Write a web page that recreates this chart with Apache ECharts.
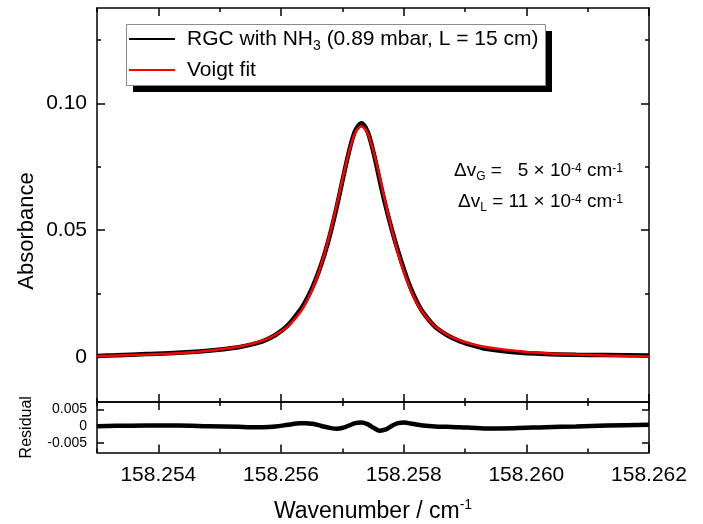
<!DOCTYPE html>
<html>
<head>
<meta charset="utf-8">
<script src="https://cdn.jsdelivr.net/npm/echarts@6/dist/echarts.min.js"></script>
<style>html,body{margin:0;padding:0;background:#fff;}#c{width:703px;height:524px;}</style>
</head>
<body>
<div id="c"></div>
<script>
// ---- data ----
const wavenumber = [158.25300,158.25331,158.25381,158.25431,158.25481,158.25531,158.25551,158.25571,158.25591,158.25611,
  158.25631,158.25641,158.25651,158.25661,158.25671,158.25681,158.25691,158.25701,158.25711,158.25721,
  158.25731,158.25741,158.25751,158.25761,158.25771,158.25781,158.25791,158.25801,158.25811,158.25821,
  158.25831,158.25851,158.25871,158.25891,158.25911,158.25931,158.25981,158.26031,158.26081,158.26131,158.26200];
const absorbance = [0.0003,0.0006,0.0011,0.0016,0.0024,0.0038,0.0048,0.0062,0.0086,0.0124,
  0.0184,0.0224,0.0273,0.0333,0.0405,0.0492,0.0593,0.0704,0.0811,0.0892,
  0.0921,0.0889,0.0804,0.0695,0.0591,0.0499,0.0416,0.0341,0.0274,0.0220,
  0.0177,0.0119,0.0085,0.0062,0.0046,0.0033,0.0018,0.0011,0.0008,0.0007,0.0005];
const voigtFit = [0.0003,0.0005,0.0009,0.0014,0.0024,0.0040,0.0051,0.0065,0.0087,0.0120,
  0.0175,0.0215,0.0266,0.0330,0.0407,0.0498,0.0601,0.0709,0.0809,0.0883,
  0.0910,0.0883,0.0809,0.0709,0.0601,0.0498,0.0407,0.0330,0.0266,0.0215,
  0.0175,0.0120,0.0087,0.0065,0.0051,0.0040,0.0024,0.0014,0.0009,0.0005,0.0001];
const residual = [0.0000,0.0001,0.0002,0.0002,0.0000,-0.0002,-0.0003,-0.0003,-0.0001,0.0004,
  0.0009,0.0009,0.0007,0.0003,-0.0002,-0.0006,-0.0008,-0.0005,0.0002,0.0009,
  0.0011,0.0006,-0.0005,-0.0014,-0.0010,0.0001,0.0009,0.0011,0.0008,0.0005,
  0.0002,-0.0001,-0.0002,-0.0003,-0.0005,-0.0007,-0.0006,-0.0003,-0.0001,0.0002,0.0004];
const xMajorTicks = [158.254,158.256,158.258,158.260,158.262];
const xMinorTicks = [158.253,158.255,158.257,158.259,158.261];
const yMajorTicks = [0,0.05,0.10];
const yMinorTicks = [0.025,0.075,0.125];
const resTicks = [-0.005,0,0.005];
const seriesNames = ['RGC with NH3 (0.89 mbar, L = 15 cm)','Voigt fit'];

const FONT = 'Liberation Sans, Arial, sans-serif';
const X_MIN = 158.253, X_MAX = 158.262;
const Y_MIN = -0.01783, Y_MAX = 0.1376;
const R_MIN = -0.00797, R_MAX = 0.0073;
const TICKSTYLE = {color:'#000', width:1.5};

function xAx(grid, pos, ticks, len, label, line) {
  return {type:'value', gridIndex:grid, position:pos, min:X_MIN, max:X_MAX,
    axisLine:{show:line, onZero:false, lineStyle:{color:'#000', width:1.5}},
    axisTick:{show:true, inside:true, length:len, customValues:ticks, lineStyle:TICKSTYLE},
    axisLabel: label ? {show:true, customValues:ticks, margin:12, fontSize:21, color:'#000', fontFamily:FONT,
      formatter:v=>v.toFixed(3)} : {show:false},
    splitLine:{show:false}};
}
function yAx(grid, pos, min, max, ticks, len, label, line, fmt, fs) {
  return {type:'value', gridIndex:grid, position:pos, min:min, max:max,
    axisLine:{show:line, onZero:false, lineStyle:{color:'#000', width:1.5}},
    axisTick:{show:true, inside:true, length:len, customValues:ticks, lineStyle:TICKSTYLE},
    axisLabel: label ? {show:true, customValues:ticks, margin:10, fontSize:fs, color:'#000', fontFamily:FONT,
      formatter:fmt} : {show:false},
    splitLine:{show:false}};
}
const fmtMain = v => v === 0 ? '0' : v.toFixed(2);
const fmtRes = v => Math.abs(v) < 1e-9 ? '0' : v.toFixed(3);

const xAxes = [
  xAx(0,'bottom',xMajorTicks,8,false,true),
  xAx(0,'top',xMajorTicks,8,false,true),
  xAx(0,'bottom',xMinorTicks,4,false,false),
  xAx(0,'top',xMinorTicks,4,false,false),
  Object.assign(xAx(1,'bottom',xMajorTicks,8,true,true), {
    name:'{n|Wavenumber / cm}{sup|-1}', nameLocation:'middle', nameGap:46,
    nameTextStyle:{fontSize:23, fontFamily:FONT, color:'#000',
      rich:{n:{fontSize:23, fontFamily:FONT, color:'#000', lineHeight:26},
            sup:{fontSize:14, fontFamily:FONT, color:'#000', verticalAlign:'top'}}}}),
  xAx(1,'top',xMajorTicks,8,false,true),
  xAx(1,'bottom',xMinorTicks,4,false,false),
  xAx(1,'top',xMinorTicks,4,false,false)
];
const yAxes = [
  yAx(0,'left',Y_MIN,Y_MAX,yMajorTicks,8,true,true,fmtMain,21),
  yAx(0,'right',Y_MIN,Y_MAX,yMajorTicks,8,false,true,fmtMain,21),
  yAx(0,'left',Y_MIN,Y_MAX,yMinorTicks,4,false,false,fmtMain,21),
  yAx(0,'right',Y_MIN,Y_MAX,yMinorTicks,4,false,false,fmtMain,21),
  Object.assign(yAx(1,'left',R_MIN,R_MAX,resTicks,7,true,true,fmtRes,14), {
    name:'Residual', nameLocation:'middle', nameGap:62,
    nameTextStyle:{fontSize:16, fontFamily:FONT, color:'#000'}}),
  yAx(1,'right',R_MIN,R_MAX,resTicks,7,false,true,fmtRes,14)
];

const pairs = (xs, ys) => xs.map((x,i)=>[x, ys[i]]);

const annRich = {
  n:{fontSize:19, fontFamily:FONT, fill:'#000', lineHeight:23, verticalAlign:'middle'},
  sub:{fontSize:12, fontFamily:FONT, fill:'#000', verticalAlign:'bottom'},
  sup:{fontSize:12, fontFamily:FONT, fill:'#000', verticalAlign:'top', padding:[3,0,0,0]}
};

const option = {
  animation:false,
  backgroundColor:'#fff',
  grid:[
    {left:97, top:8, width:552, height:394},
    {left:97, top:402, width:552, height:53}
  ],
  xAxis:xAxes,
  yAxis:yAxes,
  legend:{
    data:seriesNames, orient:'vertical', left:126, top:24,
    padding:[1,6,1,3], itemGap:3, itemWidth:46, itemHeight:2, icon:'rect',
    backgroundColor:'transparent', z:10,
    formatter: name => name === seriesNames[0]
      ? '{g|}{a|RGC with NH}{sub|3}{a| (0.89 mbar, L = 15 cm)}'
      : '{g|}{a|Voigt fit}',
    textStyle:{fontSize:21, fontFamily:FONT, color:'#000', lineHeight:28,
      rich:{g:{width:7, lineHeight:28},
            a:{fontSize:21, fontFamily:FONT, color:'#000', lineHeight:28, verticalAlign:'middle'},
            sub:{fontSize:14, fontFamily:FONT, color:'#000', verticalAlign:'bottom'}}}
  },
  graphic:[
    {type:'rect', z:1, shape:{x:133, y:31, width:419, height:61}, style:{fill:'#000'}},
    {type:'rect', z:2, shape:{x:126.5, y:24.5, width:419, height:61}, style:{fill:'#fff', stroke:'#8c8c8c', lineWidth:1}},
    {type:'text', z:5, x:623, y:171, style:{
      text:'{n|Δv}{sub|G}{n| =   5 × 10}{sup|-4}{n| cm}{sup|-1}', align:'right', verticalAlign:'middle', rich:annRich}},
    {type:'text', z:5, x:623, y:202, style:{
      text:'{n|Δv}{sub|L}{n| = 11 × 10}{sup|-4}{n| cm}{sup|-1}', align:'right', verticalAlign:'middle', rich:annRich}},
    {type:'text', z:5, x:27, y:231, rotation:Math.PI/2, style:{
      text:'Absorbance', align:'center', verticalAlign:'middle', fontSize:22, fontFamily:FONT, fill:'#000'}}
  ],
  series:[
    {name:seriesNames[0], type:'line', xAxisIndex:0, yAxisIndex:0, data:pairs(wavenumber, absorbance),
      showSymbol:false, symbol:'none', smooth:0.3, lineStyle:{color:'#000', width:4.5}, itemStyle:{color:'#000'}, z:3},
    {name:seriesNames[1], type:'line', xAxisIndex:0, yAxisIndex:0, data:pairs(wavenumber, voigtFit),
      showSymbol:false, symbol:'none', smooth:0.3, lineStyle:{color:'#ff0000', width:2.5}, itemStyle:{color:'#ff0000'}, z:4},
    {name:'Residual', type:'line', xAxisIndex:4, yAxisIndex:4, data:pairs(wavenumber, residual),
      showSymbol:false, symbol:'none', smooth:0.3, lineStyle:{color:'#000', width:4.5}, itemStyle:{color:'#000'}, z:3}
  ]
};
echarts.init(document.getElementById('c'), null, {renderer:'canvas'}).setOption(option);
</script>
</body>
</html>
